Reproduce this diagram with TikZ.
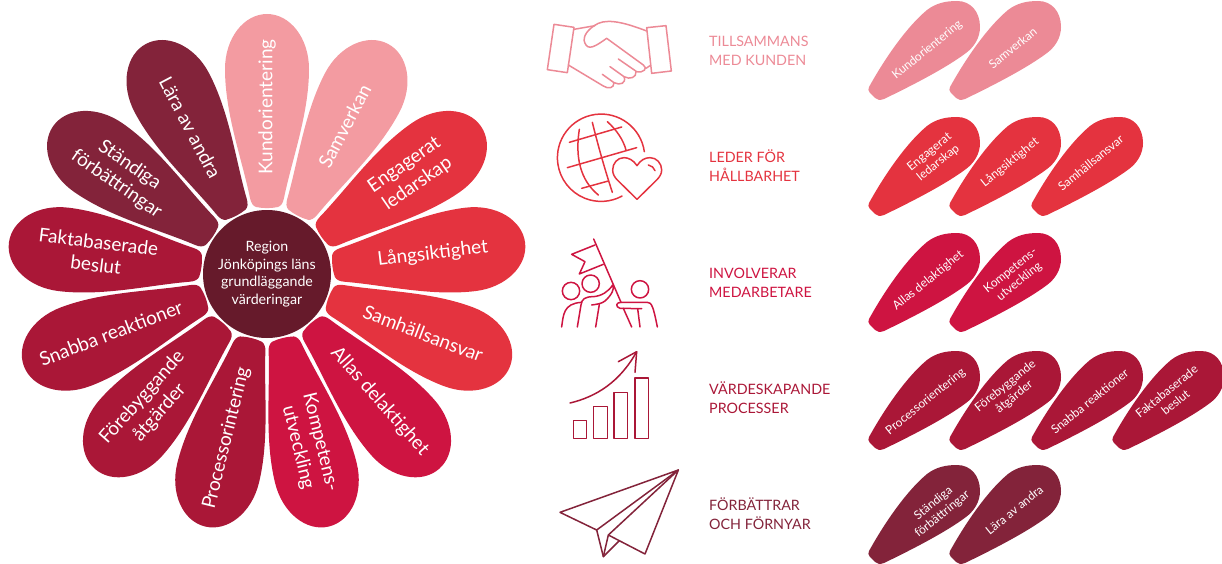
\documentclass[tikz,border=0pt]{standalone}
\usepackage{fontspec}
\setmainfont{Lato}
\definecolor{cA}{HTML}{F39BA1}
\definecolor{cAs}{HTML}{EC8A96}
\definecolor{cB}{HTML}{E4333F}
\definecolor{cC}{HTML}{CE1441}
\definecolor{cD}{HTML}{AA1737}
\definecolor{cE}{HTML}{83233A}
\definecolor{cF}{HTML}{661A2B}
\tikzset{
  bigtext/.style={text=white,inner sep=0pt,align=center,font=\fontsize{19}{23}\selectfont},
  smalltext/.style={text=white,inner sep=0pt,align=center,font=\fontsize{12}{14}\selectfont},
  headtext/.style={anchor=west,inner sep=0pt,align=left,font=\fontsize{14.3}{19}\selectfont},
  icon/.style={draw=#1,line width=1.5pt,line join=round,line cap=round,fill=none},
}
% local petal: pointing up from the flower centre (r = -y)
\newcommand{\bigpetal}[6]{%
  \begin{scope}[shift={(267,274)},rotate=-#2]
    \fill[#3] (-11,-67) .. controls (-4,-65.5) and (4,-65.5) .. (11,-67)
      .. controls (14,-68) and (16,-71) .. (17,-76)
      .. controls (25,-115) and (42,-160) .. (42,-205)
      .. controls (42,-236) and (23,-260) .. (0,-260)
      .. controls (-23,-260) and (-42,-236) .. (-42,-205)
      .. controls (-42,-160) and (-25,-115) .. (-17,-76)
      .. controls (-16,-71) and (-14,-68) .. (-11,-67) -- cycle;
    \node[bigtext,rotate=#5] (#1) at (0,-#4) {#6};
  \end{scope}}
% small tilted tile
\newcommand{\tile}[7]{%
  \begin{scope}[shift={(#2,#3)}]
    \fill[#4] (1,87) .. controls (12,67) and (35,30) .. (59,10)
      .. controls (68,3) and (78,1) .. (89,1)
      .. controls (103,1) and (112,12) .. (112,27)
      .. controls (112,38) and (106,47) .. (98,53)
      .. controls (78,68) and (45,85) .. (16,99)
      .. controls (12,100.5) and (9,100) .. (7,98)
      -- (2,93) .. controls (0,91) and (0,89) .. (1,87) -- cycle;
    \node[smalltext,rotate=39] (#1) at (#5,#6) {#7};
  \end{scope}}
\begin{document}
\begin{tikzpicture}[x=1pt,y=-1pt]
\useasboundingbox (0,0) rectangle (1222,564);
\bigpetal{pA}{0}{cA}{167}{90}{Kundorientering}
\bigpetal{pB}{27.7}{cA}{167}{62.3}{Samverkan}
\bigpetal{pC}{55.4}{cB}{175}{34.6}{Engagerat\\ledarskap}
\bigpetal{pD}{83.1}{cB}{167}{6.9}{Långsiktighet}
\bigpetal{pE}{110.8}{cB}{167}{-20.8}{Samhällsansvar}
\bigpetal{pF}{138.5}{cC}{170}{-48.5}{Allas delaktighet}
\bigpetal{pG}{166.2}{cC}{176}{-76.2}{Kompetens-\\utveckling}
\bigpetal{pH}{193.8}{cD}{169}{76.2}{Processorintering}
\bigpetal{pI}{221.5}{cD}{175}{48.5}{Förebyggande\\åtgärder}
\bigpetal{pJ}{249.2}{cD}{167}{20.8}{Snabba reaktioner}
\bigpetal{pK}{276.9}{cD}{171}{-6.9}{Faktabaserade\\beslut}
\bigpetal{pL}{304.6}{cE}{175}{-34.6}{Ständiga\\förbättringar}
\bigpetal{pM}{332.3}{cE}{165}{-62.3}{Lära av andra}
\node[circle,fill=cF,minimum size=128pt,inner sep=0pt,text=white,align=center,font=\fontsize{14.2}{17.5}\selectfont] (hub) at (267,274) {Region\\Jönköpings läns\\grundläggande\\värderingar};

% headings
\node[headtext,text=cAs] (h1) at (709,51) {TILLSAMMANS\\MED KUNDEN};
\node[headtext,text=cB] (h2) at (709,166) {LEDER FÖR\\HÅLLBARHET};
\node[headtext,text=cC] (h3) at (709,282.5) {INVOLVERAR\\MEDARBETARE};
\node[headtext,text=cD] (h4) at (709,398) {VÄRDESKAPANDE\\PROCESSER};
\node[headtext,text=cE] (h5) at (709,514) {FÖRBÄTTRAR\\OCH FÖRNYAR};

% tiles
\tile{t1}{868}{0}{cAs}{59.3}{50}{Kundorientering}
\tile{t2}{949}{0}{cAs}{63.7}{48}{Samverkan}
\tile{t3}{868}{116}{cB}{66}{41.7}{Engagerat\\ledarskap}
\tile{t4}{949}{116}{cB}{61}{46.7}{Långsiktighet}
\tile{t5}{1031}{116}{cB}{59.7}{46.7}{Samhällsansvar}
\tile{t6}{868}{232}{cC}{60.3}{48.7}{Allas delaktighet}
\tile{t7}{949}{232}{cC}{66}{44.3}{Kompetens-\\utveckling}
\tile{t8}{868}{350}{cD}{57.7}{51.7}{Processorientering}
\tile{t9}{949}{350}{cD}{61}{41.7}{Förebyggande\\åtgärder}
\tile{t10}{1031}{350}{cD}{58.7}{51}{Snabba reaktioner}
\tile{t11}{1112}{350}{cD}{59}{46.7}{Faktabaserade\\beslut}
\tile{t12}{868}{464}{cE}{70}{45}{Ständiga\\förbättringar}
\tile{t13}{949}{464}{cE}{65.3}{46}{Lära av andra}

% handshake icon
\begin{scope}[shift={(540,0)},x=0.33333pt,y=-0.33333pt]
  \draw[icon=cAs] (42,73) -- (102,82) -- (82,218) -- (22,209) -- cycle;
  \draw[icon=cAs] (320,83) -- (378,77) -- (394,213) -- (335,220) -- cycle;
  \draw[icon=cAs] (102,88) -- (165,77);
  \draw[icon=cAs] (320,93) .. controls (265,72) and (210,55) .. (175,70)
    .. controls (145,85) and (125,110) .. (135,130)
    .. controls (145,152) and (165,140) .. (200,115)
    -- (310,195) .. controls (325,205) and (310,220) .. (290,215)
    -- (235,177);
  \draw[icon=cAs] (288,215) .. controls (290,232) and (270,240) .. (252,230) -- (210,200);
  \draw[icon=cAs] (252,230) .. controls (260,250) and (240,257) .. (222,248) -- (187,223);
  \draw[icon=cAs] (222,248) .. controls (222,265) and (205,268) .. (190,258) -- (85,195);
  \draw[icon=cAs] (318,205) -- (330,197);
  % globe icon
  \draw[icon=cB] (313,455) arc[start angle=-8,end angle=-298.7,radius=131];
  \draw[icon=cB] (88,427) -- (245,381);
  \draw[icon=cB] (82,503) -- (290,443);
  \draw[icon=cB] (125,565) -- (205,543);
  \draw[icon=cB] (157,367) .. controls (175,440) and (195,510) .. (217,577);
  \draw[icon=cB] (118,388) .. controls (105,470) and (120,540) .. (175,585);
  \draw[icon=cB] (202,365) .. controls (230,390) and (250,420) .. (258,450);
  \draw[icon=cB] (291,497) .. controls (280,480) and (265,473) .. (252,473)
    .. controls (232,473) and (218,490) .. (218,510)
    .. controls (218,522) and (224,532) .. (232,540) -- (291,598) -- (350,540)
    .. controls (358,532) and (365,522) .. (365,510)
    .. controls (365,490) and (350,473) .. (330,473)
    .. controls (315,473) and (302,480) .. (291,497) -- cycle;
  \draw[icon=cB] (325,495) .. controls (335,497) and (342,503) .. (345,512);
\end{scope}

% team icon
\begin{scope}[shift={(540,225)},x=0.33333pt,y=-0.33333pt]
  \draw[icon=cC] (161,42) -- (243,232);
  \draw[icon=cC] (165,60) -- (95,88) -- (135,110) -- (118,147) -- (190,118);
  \draw[icon=cC] (93,198) circle[radius=26];
  \draw[icon=cC] (152,176) circle[radius=26];
  \draw[icon=cC] (300,193) circle[radius=26];
  \draw[icon=cC] (65,306) .. controls (70,270) and (70,235) .. (125,232);
  \draw[icon=cC] (112,306) -- (123,240) .. controls (125,222) and (135,215) .. (160,215)
    .. controls (185,213) and (205,200) .. (218,180)
    .. controls (225,190) and (215,210) .. (195,228)
    .. controls (185,236) and (170,238) .. (155,240);
  \draw[icon=cC] (178,238) -- (167,306);
  \draw[icon=cC] (243,232) -- (322,232) .. controls (335,232) and (340,245) .. (352,306);
  \draw[icon=cC] (305,251) -- (240,250) .. controls (225,245) and (228,232) .. (243,232);
  \draw[icon=cC] (250,250) -- (275,306);
  \draw[icon=cC] (293,251) -- (300,306);
  % chart icon
  \draw[icon=cD] (100,587) rectangle (140,640);
  \draw[icon=cD] (160,545) rectangle (202,640);
  \draw[icon=cD] (222,503) rectangle (263,640);
  \draw[icon=cD] (285,459) rectangle (326,640);
  \draw[icon=cD] (90,534) .. controls (170,515) and (240,470) .. (290,380);
  \draw[icon=cD] (235,410) -- (290,380) -- (285,442);
\end{scope}

% plane icon
\begin{scope}[shift={(540,450)},x=0.33333pt,y=-0.33333pt]
  \draw[icon=cE] (415,60) -- (60,187) -- (170,240) -- cycle;
  \draw[icon=cE] (170,240) -- (190,320) -- (238,272);
  \draw[icon=cE] (190,320) -- (205,255) -- (315,312) -- (415,60);
  \draw[icon=cE] (205,255) -- (415,60);
\end{scope}
\end{tikzpicture}
\end{document}
